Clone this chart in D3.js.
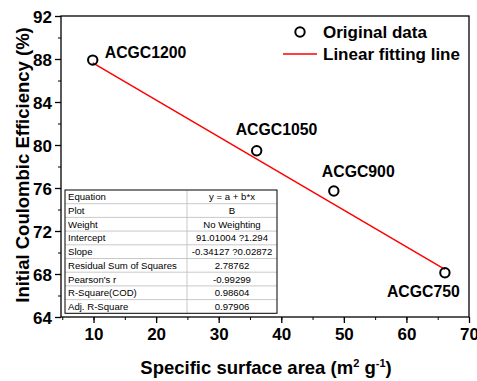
<!DOCTYPE html>
<html>
<head>
<meta charset="utf-8">
<script src="https://cdn.jsdelivr.net/npm/d3@7"></script>
<style>
  body { margin: 0; background: #fff; }
  svg { display: block; font-family: "Liberation Sans", Arial, sans-serif; }
</style>
</head>
<body>
<div id="chart"></div>
<script>
// data
const samples = ['ACGC1200', 'ACGC1050', 'ACGC900', 'ACGC750'];
const area = [9.87, 36.07, 48.4, 66.15];
const ice = [87.9, 79.47, 75.72, 68.12];
const fit = { a: 91.01004, b: -0.34127 };
const xTicks = [10, 20, 30, 40, 50, 60, 70];
const yTicks = [64, 68, 72, 76, 80, 84, 88, 92];
const tableKeys = ['Equation', 'Plot', 'Weight', 'Intercept', 'Slope', 'Residual Sum of Squares',
  "Pearson's r", 'R-Square(COD)', 'Adj. R-Square'];
const tableVals = ['y = a + b*x', 'B', 'No Weighting', '91.01004 ?1.294', '-0.34127 ?0.02872',
  '2.78762', '-0.99299', '0.98604', '0.97906'];

const W = 477, H = 381;
const margin = { top: 16, right: 8, bottom: 64, left: 61 };
const width = W - margin.left - margin.right;
const height = H - margin.top - margin.bottom;

const svg = d3.select('#chart').append('svg').attr('width', W).attr('height', H);
const g = svg.append('g').attr('transform', `translate(${margin.left},${margin.top})`);

const x = d3.scaleLinear().domain([4.8, 70]).range([0, width]);
const y = d3.scaleLinear().domain([64, 92]).range([height, 0]);

// minor ticks
g.append('g')
  .attr('transform', `translate(0,${height})`)
  .call(d3.axisBottom(x).tickValues(d3.range(5, 71, 5)).tickSize(3).tickFormat(''))
  .call(a => a.select('.domain').remove());
g.append('g')
  .call(d3.axisLeft(y).tickValues(d3.range(64, 93, 2)).tickSize(3).tickFormat(''))
  .call(a => a.select('.domain').remove());

// major ticks
const xAxis = g.append('g')
  .attr('transform', `translate(0,${height})`)
  .call(d3.axisBottom(x).tickValues(xTicks).tickSize(6).tickPadding(3));
const yAxis = g.append('g')
  .call(d3.axisLeft(y).tickValues(yTicks).tickSize(6).tickPadding(3));
[xAxis, yAxis].forEach(a => {
  a.select('.domain').remove();
  a.selectAll('text').style('font-size', '17px').style('font-weight', 'bold').attr('fill', '#000');
  a.selectAll('line').attr('stroke-width', 1.3);
});
xAxis.selectAll('text').attr('dy', '0.85em');
yAxis.selectAll('text').attr('dy', '0.36em');
g.selectAll('.tick line').attr('stroke', '#000');

// stats table
const rowH = 13.7;
const tbl = g.append('g').attr('transform', `translate(${65 - margin.left},${190 - margin.top})`);
const tW = 212, c1 = 122;
tableKeys.forEach((k, i) => {
  if (i > 0) {
    tbl.append('line').attr('x1', 0).attr('x2', tW).attr('y1', i * rowH).attr('y2', i * rowH)
      .attr('stroke', '#bbb').attr('stroke-width', 0.8);
  }
  tbl.append('text').attr('x', 3).attr('y', i * rowH + 10.3).style('font-size', '9.6px').text(k);
  tbl.append('text').attr('x', c1 + (tW - c1) / 2).attr('y', i * rowH + 10.3)
    .attr('text-anchor', 'middle').style('font-size', '9.6px').text(tableVals[i]);
});
tbl.append('line').attr('x1', c1).attr('x2', c1).attr('y1', 0).attr('y2', rowH * tableKeys.length)
  .attr('stroke', '#bbb').attr('stroke-width', 0.8);
tbl.append('rect').attr('width', tW).attr('height', rowH * tableKeys.length)
  .attr('fill', 'none').attr('stroke', '#000').attr('stroke-width', 1);

// fit line
const x0 = d3.min(area), x1 = d3.max(area);
g.append('line')
  .attr('x1', x(x0)).attr('y1', y(fit.a + fit.b * x0))
  .attr('x2', x(x1)).attr('y2', y(fit.a + fit.b * x1))
  .attr('stroke', '#f00').attr('stroke-width', 1.5);

// points
g.selectAll('circle.pt').data(area).enter().append('circle')
  .attr('class', 'pt')
  .attr('cx', d => x(d)).attr('cy', (d, i) => y(ice[i])).attr('r', 4.7)
  .attr('fill', 'none').attr('stroke', '#000').attr('stroke-width', 2);

// point labels
const labelPos = [[12, -2], [-21, -16], [-12, -14], [-58, 24]];
g.selectAll('text.lab').data(samples).enter().append('text')
  .attr('class', 'lab')
  .attr('x', (d, i) => x(area[i]) + labelPos[i][0])
  .attr('y', (d, i) => y(ice[i]) + labelPos[i][1])
  .style('font-size', '15.8px').style('font-weight', 'bold').text(d => d);

// frame
g.append('rect').attr('width', width).attr('height', height)
  .attr('fill', 'none').attr('stroke', '#000').attr('stroke-width', 1.3);

// legend
const lg = svg.append('g');
lg.append('circle').attr('cx', 300).attr('cy', 32).attr('r', 4.7)
  .attr('fill', 'none').attr('stroke', '#000').attr('stroke-width', 2);
lg.append('text').attr('x', 323).attr('y', 38).style('font-size', '17px').style('font-weight', 'bold')
  .text('Original data');
lg.append('line').attr('x1', 283).attr('x2', 317).attr('y1', 54).attr('y2', 54)
  .attr('stroke', '#f00').attr('stroke-width', 1.5);
lg.append('text').attr('x', 323).attr('y', 60).style('font-size', '17px').style('font-weight', 'bold')
  .text('Linear fitting line');

// axis titles
const xt = svg.append('text').attr('x', 266).attr('y', 374).attr('text-anchor', 'middle')
  .style('font-size', '18.5px').style('font-weight', 'bold');
xt.append('tspan').text('Specific surface area (m');
xt.append('tspan').attr('dy', -7).style('font-size', '11px').text('2');
xt.append('tspan').attr('dy', 7).text(' g');
xt.append('tspan').attr('dy', -7).style('font-size', '11px').text('-1');
xt.append('tspan').attr('dy', 7).text(')');

svg.append('text').attr('transform', 'translate(29,165) rotate(-90)').attr('text-anchor', 'middle')
  .style('font-size', '18.5px').style('font-weight', 'bold')
  .text('Initial Coulombic Efficiency (%)');
</script>
</body>
</html>
